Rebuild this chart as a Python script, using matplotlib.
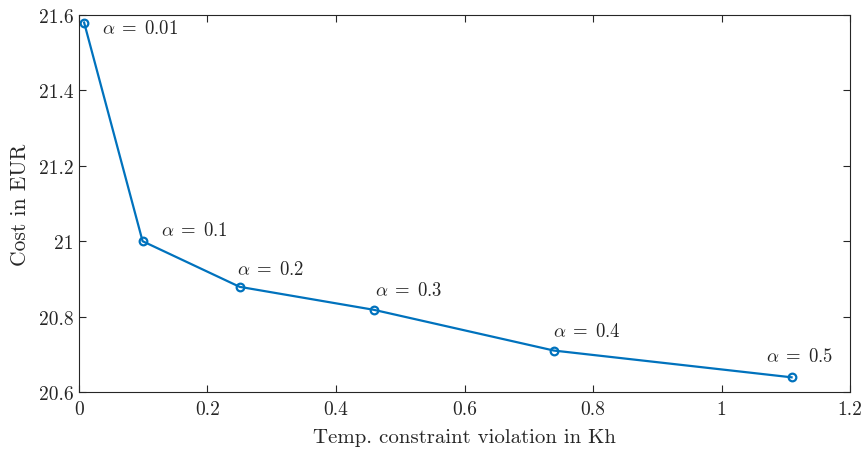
import matplotlib
matplotlib.use("Agg")
import matplotlib.pyplot as plt
from matplotlib.ticker import FuncFormatter

plt.rcParams['font.family'] = ['cmr10']
plt.rcParams['mathtext.fontset'] = 'cm'
plt.rcParams['axes.formatter.use_mathtext'] = True
plt.rcParams['axes.unicode_minus'] = False

violation = [0.008, 0.099, 0.25, 0.459, 0.739, 1.109]
cost = [21.58, 21.00, 20.879, 20.818, 20.710, 20.639]
labels = [r'$\alpha\;=\;0.01$', r'$\alpha\;=\;0.1$', r'$\alpha\;=\;0.2$',
          r'$\alpha\;=\;0.3$', r'$\alpha\;=\;0.4$', r'$\alpha\;=\;0.5$']
offsets = [(12.7, -3.8), (13, 8.4), (-2.2, 12.5), (0.7, 14.4), (-0.7, 14.4), (-18.5, 15.6)]

fig = plt.figure(figsize=(8.65, 4.52), dpi=100)
ax = fig.add_axes([0.0913, 0.1305, 0.8914, 0.8341])
ax.plot(violation, cost, color='#0072BD', lw=1.6, marker='o', ms=5.5,
        mfc='none', mec='#0072BD', mew=1.6)
for x, y, lab, off in zip(violation, cost, labels, offsets):
    ax.annotate(lab, (x, y), xytext=off, textcoords='offset points',
                fontsize=13.5, color='#262626', ha='left', va='center')

ax.set_xlim(0, 1.2)
ax.set_ylim(20.6, 21.6)
ax.set_xticks([0, 0.2, 0.4, 0.6, 0.8, 1.0, 1.2])
ax.set_yticks([20.6, 20.8, 21.0, 21.2, 21.4, 21.6])
fmt = FuncFormatter(lambda v, p: '%g' % round(v, 3))
ax.xaxis.set_major_formatter(fmt)
ax.yaxis.set_major_formatter(fmt)
ax.tick_params(direction='in', top=True, right=True, length=5, width=0.8,
               labelsize=14, colors='#262626', pad=4)
ax.tick_params(axis='x', pad=6)
for s in ax.spines.values():
    s.set_color('#262626')
    s.set_linewidth(0.8)
ax.set_xlabel('Temp. constraint violation in Kh', fontsize=15, color='#262626', labelpad=7)
ax.set_ylabel('Cost in EUR', fontsize=15.5, color='#262626', labelpad=6)

fig.savefig('out.png', dpi=100)
